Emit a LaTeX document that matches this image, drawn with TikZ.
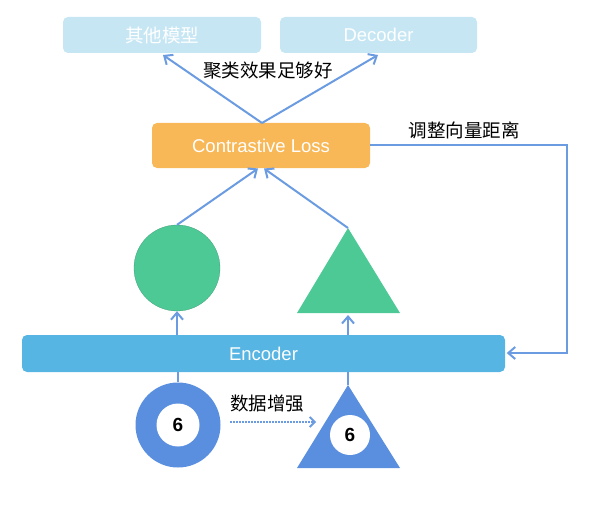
\documentclass[tikz,border=0pt]{standalone}
\usepackage{fontspec}
\setmainfont{Liberation Sans}
\newfontfamily\cjk{Noto Sans CJK SC}
\usetikzlibrary{arrows.meta,shapes.geometric}
\definecolor{lightbox}{HTML}{C6E6F4}
\definecolor{lossor}{HTML}{F8B857}
\definecolor{encblue}{HTML}{56B5E3}
\definecolor{shgreen}{HTML}{4DC995}
\definecolor{shblue}{HTML}{5A8FDF}
\definecolor{linkblue}{HTML}{6B9BE0}
\tikzset{
  box/.style={rounded corners=5pt, inner sep=0pt, text=white, font=\fontsize{18.5}{20}\selectfont},
  link/.style={draw=linkblue, line width=2pt, -{Straight Barb[length=7pt,width=12pt,line width=2pt]}},
  plain/.style={draw=linkblue, line width=2pt},
  lbl/.style={font=\cjk\fontsize{18.5}{20}\selectfont, text=black, inner sep=0pt},
  num/.style={circle, fill=white, inner sep=0pt, font=\bfseries\fontsize{19}{21}\selectfont}
}
\begin{document}
\begin{tikzpicture}[x=1pt,y=-1pt]
\useasboundingbox (0,0) rectangle (596,505);
% top boxes
\node[box, fill=lightbox, minimum width=198pt, minimum height=36pt, font=\cjk\fontsize{18.5}{20}\selectfont] (other) at (162,35) {其他模型};
\node[box, fill=lightbox, minimum width=197pt, minimum height=36pt] (dec) at (378.5,35) {Decoder};
% loss
\node[box, fill=lossor, minimum width=218pt, minimum height=45pt] (loss) at (261,145.5) {Contrastive Loss};
% encoder
\node[box, fill=encblue, minimum width=483pt, minimum height=37pt] (enc) at (263.5,353.5) {Encoder};
% green shapes
\node[circle, fill=shgreen, draw=shgreen!80!black, line width=0.3pt, minimum size=86pt, inner sep=0pt] (gc) at (177,268) {};
\coordinate (gtA) at (348,228);
\coordinate (gtL) at (297,313);
\coordinate (gtR) at (400,313);
\fill[shgreen] (gtA) -- (gtR) -- (gtL) -- cycle;
% blue shapes
\node[circle, fill=shblue, minimum size=85pt, inner sep=0pt] (bc) at (178,425) {};
\node[num, minimum size=43pt] (bcn) at (bc.center) {6};
\coordinate (btA) at (348,385);
\coordinate (btL) at (297,468);
\coordinate (btR) at (400,468);
\fill[shblue] (btA) -- (btR) -- (btL) -- cycle;
\node[num, minimum size=40pt] (btn) at (350,435) {6};
% arrows up to top boxes
\coordinate (lossT) at (262,123);
\draw[link] (lossT) -- (163,55);
\draw[link] (lossT) -- (378,55);
\node[lbl] (lab1) at (268,71) {聚类效果足够好};
% shapes to loss
\draw[link] (gc.north) -- (258,168.5);
\draw[link] (gtA) -- (264,168.5);
% encoder to shapes
\draw[link] (gc.south |- enc.north) -- (gc.south);
\draw[link] (gtA |- enc.north) -- (348,315);
% inputs to encoder
\draw[plain] (bc.north) -- (bc.north |- enc.south);
\draw[plain] (btA) -- (btA |- enc.south);
% feedback
\coordinate (fb1) at (567,145);
\coordinate (fb2) at (567,353);
\draw[link, shorten >=1.5pt] (loss.east |- fb1) -- (fb1) -- (fb2) -- (enc.east |- fb2);
\node[lbl] (lab2) at (464,130) {调整向量距离};
% augmentation
\coordinate (augS) at (230,422);
\coordinate (augE) at (316,422);
\draw[draw=linkblue, line width=1.8pt, dash pattern=on 1.5pt off 1.5pt, -{Straight Barb[length=5pt,width=10pt,line width=1.8pt]}] (augS) -- (augE);
\node[lbl] (lab3) at (267,404) {数据增强};
\end{tikzpicture}
\end{document}
